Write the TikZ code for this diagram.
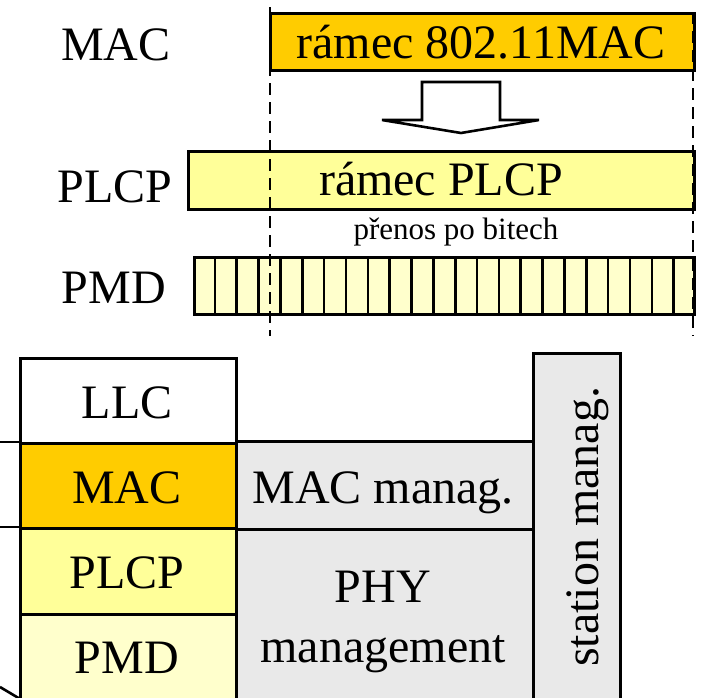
\documentclass[tikz,border=0pt]{standalone}
\usepackage{fontspec}
\setmainfont{Liberation Serif}
\usetikzlibrary{calc}
\definecolor{macor}{HTML}{FFCC00}
\definecolor{plcpy}{HTML}{FFFF99}
\definecolor{pmdy}{HTML}{FFFFCC}
\definecolor{mgrey}{HTML}{E9E9E9}
\tikzset{
  box/.style={draw=black, line width=2.6pt, rectangle, inner sep=0pt, anchor=north west},
  big/.style={font=\fontsize{48}{52}\selectfont, inner sep=0pt, anchor=base},
  small/.style={font=\fontsize{31}{34}\selectfont, inner sep=0pt, anchor=base},
  guide/.style={line width=2.6pt, dash pattern=on 12pt off 7pt},
  hollow/.style={draw=black, fill=white, line width=2.6pt, line join=miter}
}
\begin{document}
\begin{tikzpicture}[x=1pt,y=-1pt]
\useasboundingbox (0,0) rectangle (702,697);
\clip (0,0) rectangle (702,697);
% top part
\node[box, fill=macor, minimum width=424pt, minimum height=57pt] (macframe) at (269,12) {};
\node[box, fill=plcpy, minimum width=506pt, minimum height=58pt] (plcpframe) at (187,150) {};
\node[box, fill=pmdy, minimum width=500pt, minimum height=57pt] (bits) at (193,256) {};
\foreach \i in {1,...,22}{
  \draw[line width=2.6pt] ($(bits.north west)!\i/23!(bits.north east)$) -- ($(bits.south west)!\i/23!(bits.south east)$);
}
\node[big] (lmac) at (116,60) {MAC};
\node[big] (lplcp) at (115,202) {PLCP};
\node[big] (lpmd) at (114,303) {PMD};
\node[big] (tmac) at (481,58) {rámec 802.11MAC};
\node[big] (tplcp) at (441,195) {rámec PLCP};
\node[small] (tbits) at (456,239) {přenos po bitech};
% hollow arrow
\draw[hollow] (422,82) -- (500,82) -- (500,120) -- (539,120) -- (461,133) -- (382,120) -- (422,120) -- cycle;
% guide lines
\coordinate (gl1) at (270,7);
\coordinate (gl2) at (270,336);
\coordinate (gr1) at (693,12);
\coordinate (gr2) at (693,336);
\draw[guide] (gl1) -- (gl2);
\draw[guide] (gr1) -- (gr2);
% bottom stack
\node[box, fill=mgrey, minimum width=297pt, minimum height=88pt] (macman) at (235,440) {};
\node[box, fill=mgrey, minimum width=297pt, minimum height=180pt] (phyman) at (235,528) {};
\node[box, fill=mgrey, minimum width=87pt, minimum height=360pt] (staman) at (532,352) {};
\node[box, fill=white, minimum width=216pt, minimum height=85pt] (llc) at (19,357) {};
\node[box, fill=macor, minimum width=216pt, minimum height=85pt] (mac) at (19,442) {};
\node[box, fill=plcpy, minimum width=216pt, minimum height=86pt] (plcp) at (19,527) {};
\node[box, fill=pmdy, minimum width=216pt, minimum height=100pt] (pmd) at (19,613) {};
\node[big] (tllc) at (127,418) {LLC};
\node[big] (tmacb) at (127,503) {MAC};
\node[big] (tplcpb) at (127,588) {PLCP};
\node[big] (tpmdb) at (127,673) {PMD};
\node[big] (tmacman) at (383,503) {MAC manag.};
\node[big] (tphy) at (383,602) {PHY};
\node[big] (tphyman) at (383,662) {management};
\node[big, rotate=90] (tstaman) at (598,527) {station manag.};
% side lines
\coordinate (s1) at (0,442);
\coordinate (s2) at (0,527);
\coordinate (s3) at (0,687);
\draw[line width=2.6pt] (s1) -- (mac.north west);
\draw[line width=2.6pt] (s2) -- (plcp.north west);
\draw[line width=2.6pt] (s3) -- ($(pmd.west)+(0,34)$);
\end{tikzpicture}
\end{document}
